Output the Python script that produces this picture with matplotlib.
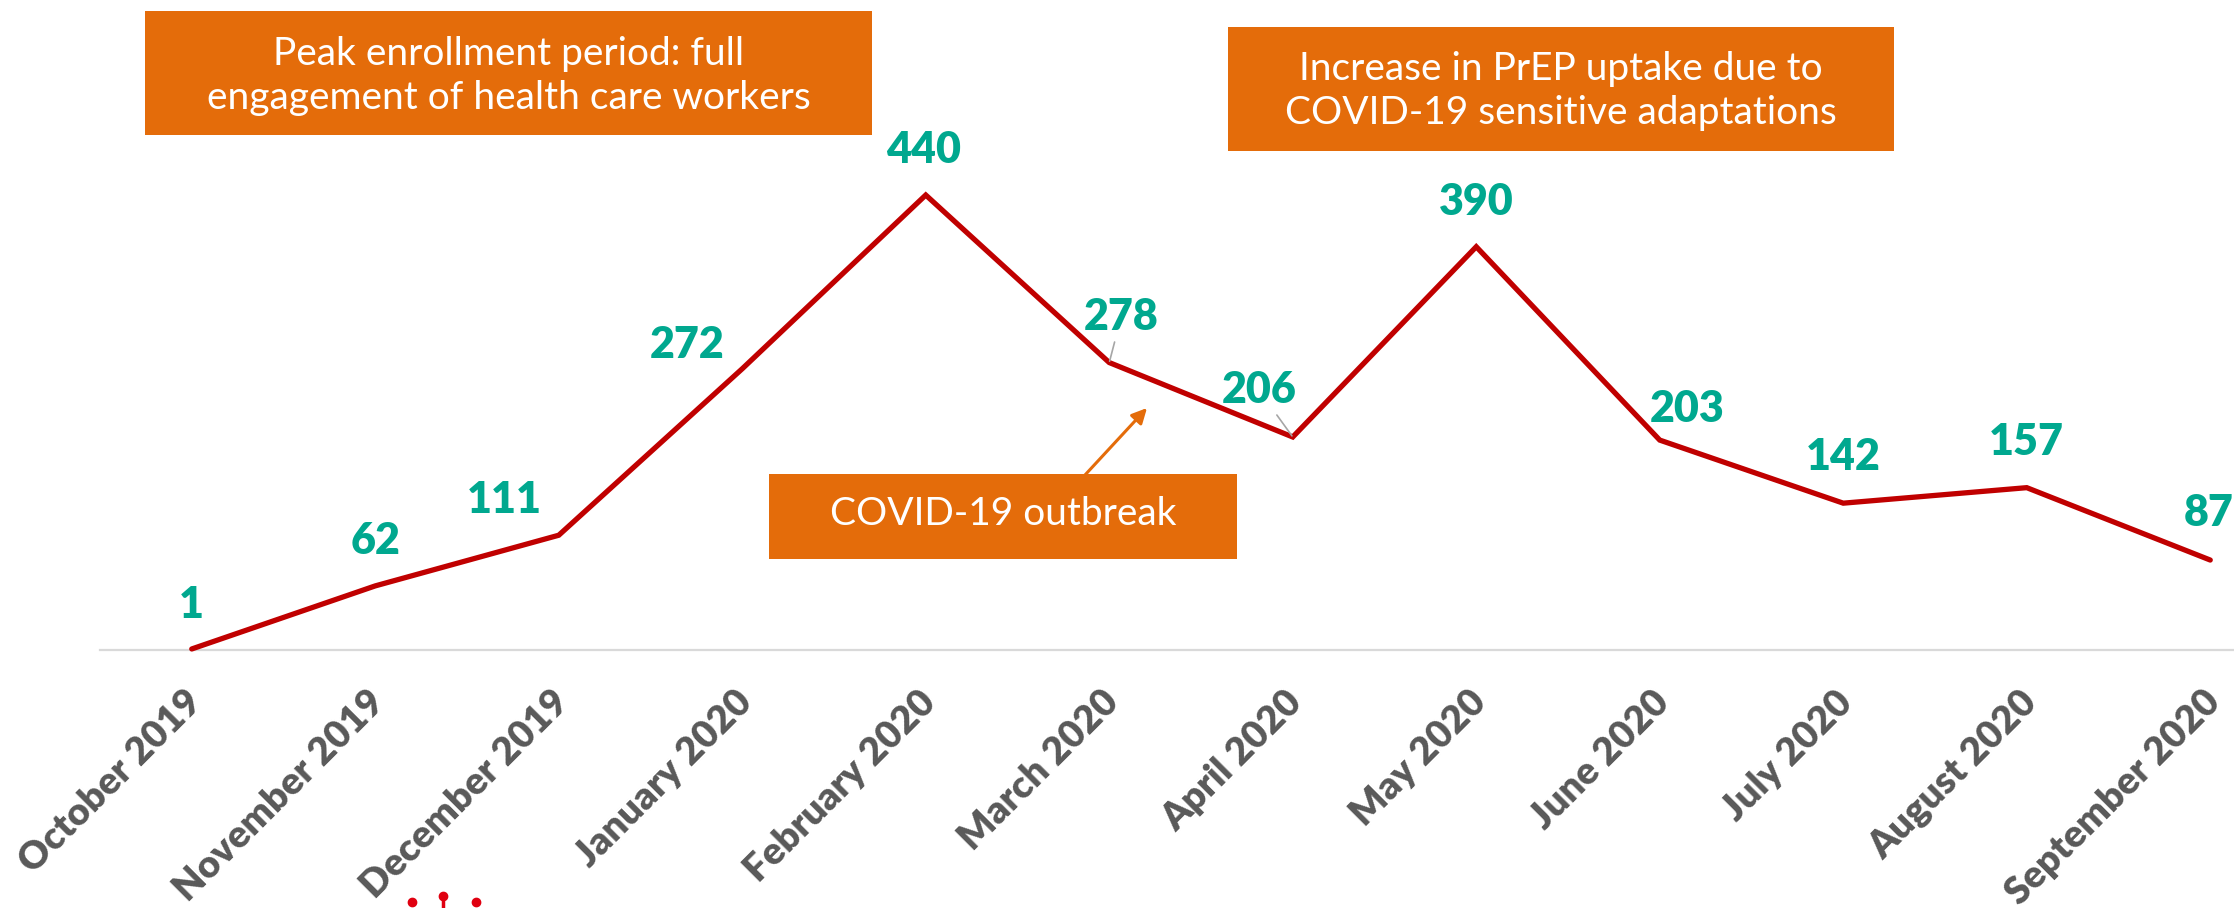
import matplotlib
matplotlib.use("Agg")
import matplotlib.pyplot as plt
import matplotlib.transforms as mtransforms
from matplotlib.patches import Rectangle

# chart data
months = ["October 2019", "November 2019", "December 2019", "January 2020",
          "February 2020", "March 2020", "April 2020", "May 2020",
          "June 2020", "July 2020", "August 2020", "September 2020"]
enrolled = [1, 62, 111, 272, 440, 278, 206, 390, 203, 142, 157, 87]

# where each value label sits relative to its point (pixels)
label_offsets = [(0, 44), (0, 45), (-54, 35), (-55, 24), (-2, 45), (12, 46),
                 (-34, 47), (0, 45), (27, 31), (0, 46), (0, 46), (-2, 47)]
leader_lines = {"March 2020", "April 2020"}

notes = ["Peak enrollment period: full\nengagement of health care workers",
         "Increase in PrEP uptake due to\nCOVID-19 sensitive adaptations",
         "COVID-19 outbreak"]

LINE_RED = "#C00000"
TEAL = "#00A88F"
ORANGE = "#E46C0A"
GREY_TXT = "#595959"

W, H = 2234, 908
fig = plt.figure(figsize=(W / 100, H / 100), dpi=100)

# axis spans 12 category slots, last one runs past the right edge
ax_left, ax_right, ax_base = 100, 2302, 650
ymax = 500
px_per_unit = 1.034
ax = fig.add_axes([ax_left / W, (H - ax_base) / H,
                   (ax_right - ax_left) / W, ymax * px_per_unit / H])
ax.set_xlim(-0.5, len(months) - 0.5)
ax.set_ylim(0, ymax)

x = list(range(len(months)))
ax.plot(x, enrolled, color=LINE_RED, lw=3.8, solid_capstyle="round",
        solid_joinstyle="miter", clip_on=False, zorder=3)

for i, (m, v) in enumerate(zip(months, enrolled)):
    dx, dy = label_offsets[i]
    arrow = None
    if m in leader_lines:
        arrow = dict(arrowstyle="-", color="#A6A6A6", lw=1.2,
                     shrinkA=2, shrinkB=1)
    ax.annotate(str(v), xy=(i, v), xytext=(dx, dy), textcoords="offset pixels",
                ha="center", va="center", color=TEAL, fontsize=31,
                fontweight="heavy", family="Lato", arrowprops=arrow,
                annotation_clip=False, zorder=4)

for s in ["top", "left", "right"]:
    ax.spines[s].set_visible(False)
ax.spines["bottom"].set_color("#D9D9D9")
ax.spines["bottom"].set_linewidth(1.6)
ax.set_yticks([])
ax.set_xticks(x)
ax.set_xticklabels(months, rotation=45, ha="right", va="top",
                   rotation_mode="anchor", color=GREY_TXT, fontsize=27.5,
                   fontweight="heavy", family="Lato")
ax.tick_params(axis="x", length=0, pad=25)
shift = mtransforms.ScaledTranslation(-8 / 100, 0, fig.dpi_scale_trans)
for lab in ax.get_xticklabels():
    lab.set_transform(lab.get_transform() + shift)


def note_box(x0, y0, x1, y1, text, ty=None):
    # box given in pixels from top-left of the picture
    fig.patches.append(Rectangle((x0 / W, 1 - y1 / H), (x1 - x0) / W,
                                 (y1 - y0) / H, transform=fig.transFigure,
                                 facecolor=ORANGE, edgecolor="none", zorder=5))
    cy = (y0 + y1) / 2 if ty is None else ty
    fig.text((x0 + x1) / 2 / W, 1 - cy / H, text, ha="center", va="center",
             color="white", fontsize=28, family="Lato", linespacing=1.3,
             zorder=6)


note_box(145, 11, 872, 135, notes[0], ty=76)
note_box(1228, 27, 1894, 151, notes[1], ty=91)
note_box(769, 474, 1237, 559, notes[2], ty=514)

# arrow from the outbreak box up toward March
ax.annotate("", xy=(1147 / W, 1 - 408 / H), xytext=(1085 / W, 1 - 475 / H),
            xycoords="figure fraction", textcoords="figure fraction",
            arrowprops=dict(arrowstyle="-|>,head_length=0.9,head_width=0.45",
                            color=ORANGE, lw=2.2, shrinkA=0, shrinkB=0),
            zorder=6)

# bits of a cropped red icon along the bottom edge
fig.lines.append(plt.Line2D([412 / W, 443 / W, 476 / W],
                            [1 - 902 / H, 1 - 896 / H, 1 - 902 / H],
                            transform=fig.transFigure, ls="none", marker="o",
                            ms=6, color="#E00010"))
fig.lines.append(plt.Line2D([443 / W, 443 / W], [1 - 896 / H, 0],
                            transform=fig.transFigure, lw=2.5,
                            color="#E00010"))

fig.savefig("out.png", dpi=100)
